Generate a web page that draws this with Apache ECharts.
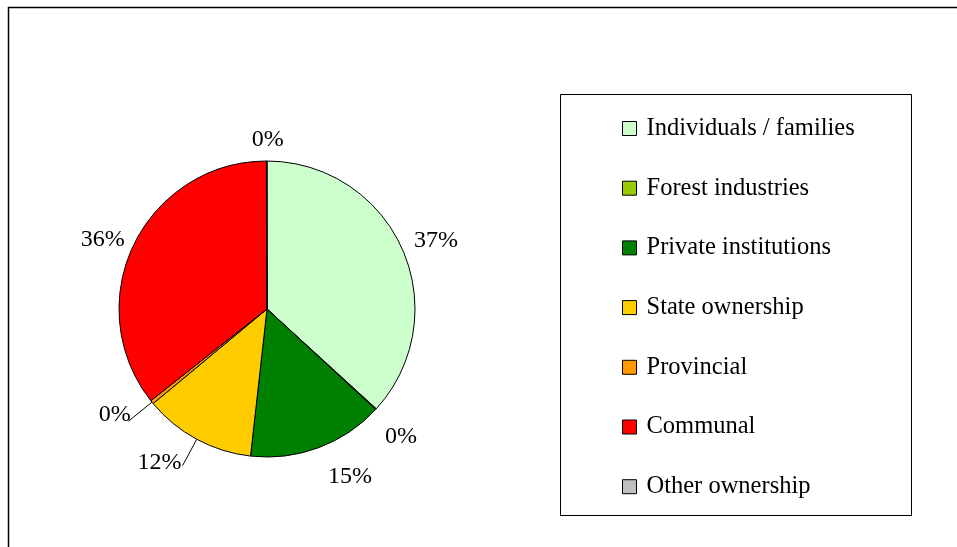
<!DOCTYPE html>
<html>
<head>
<meta charset="utf-8">
<style>
    html, body { margin: 0; padding: 0; background: #fff; }
    #pie-chart { width: 957px; height: 547px; }
</style>
<script src="https://cdn.jsdelivr.net/npm/echarts@6/dist/echarts.min.js"></script>
</head>
<body>
<div id="pie-chart"></div>
<script>
    // ownership categories and shares (%)
    var categories = ['Individuals / families', 'Forest industries', 'Private institutions',
        'State ownership', 'Provincial', 'Communal', 'Other ownership'];
    var shares = [36.8, 0.1, 14.9, 12.2, 0.4, 35.6, 0.05];
    var colors = ['#ccffcc', '#99cc00', '#008000', '#ffcc00', '#ff9900', '#ff0000', '#c0c0c0'];

    // label nudges (dx, dy) and leader lines, per slice name
    var labelNudge = {
        'Individuals / families': [6, 4],
        'Forest industries': [3, 7],
        'Private institutions': [21, 1],
        'State ownership': [-23, -3],
        'Provincial': [-14, -6],
        'Communal': [-4, 8],
        'Other ownership': [1, 9]
    };
    var withLine = ['State ownership', 'Provincial'];

    var font = 'Liberation Serif';
    var myChart = echarts.init(document.getElementById('pie-chart'));

    var pieData = categories.map(function (name, i) {
        return {
            name: name,
            value: shares[i],
            itemStyle: { color: colors[i] },
            labelLine: { show: withLine.indexOf(name) >= 0 }
        };
    });

    var options = {
        animation: false,
        graphic: [
            // outer frame (cut by the right / bottom edge)
            {
                type: 'rect',
                shape: { x: 8.5, y: 7.5, width: 1000, height: 600 },
                style: { fill: 'none', stroke: '#000', lineWidth: 1.5 }
            },
            // legend box
            {
                type: 'rect',
                shape: { x: 560.5, y: 94.5, width: 351, height: 421 },
                style: { fill: '#fff', stroke: '#000', lineWidth: 1 }
            }
        ],
        legend: {
            orient: 'vertical',
            left: 622,
            top: 116,
            icon: 'rect',
            itemWidth: 14,
            itemHeight: 14,
            itemGap: 34.7,
            padding: 0,
            selectedMode: false,
            itemStyle: { borderColor: '#000', borderWidth: 1 },
            textStyle: {
                fontFamily: font,
                fontSize: 24.5,
                color: '#000',
                lineHeight: 20,
                padding: [0, 0, 0, 5]
            },
            data: categories
        },
        series: [{
            type: 'pie',
            center: [267, 309],
            radius: 148,
            startAngle: 90,
            clockwise: true,
            avoidLabelOverlap: false,
            itemStyle: { borderColor: '#000', borderWidth: 1 },
            emphasis: { disabled: true },
            label: {
                position: 'outside',
                fontFamily: font,
                fontSize: 24,
                color: '#000',
                distanceToLabelLine: 0,
                formatter: function (p) {
                    return Math.round(p.value) + '%';
                }
            },
            labelLine: {
                lineStyle: { color: '#000', width: 1 },
                length: 30,
                length2: 0
            },
            labelLayout: function (params) {
                var n = labelNudge[categories[params.dataIndex]];
                return {
                    align: 'center',
                    verticalAlign: 'middle',
                    dx: n[0],
                    dy: n[1]
                };
            },
            data: pieData
        }]
    };

    myChart.setOption(options);
</script>
</body>
</html>
